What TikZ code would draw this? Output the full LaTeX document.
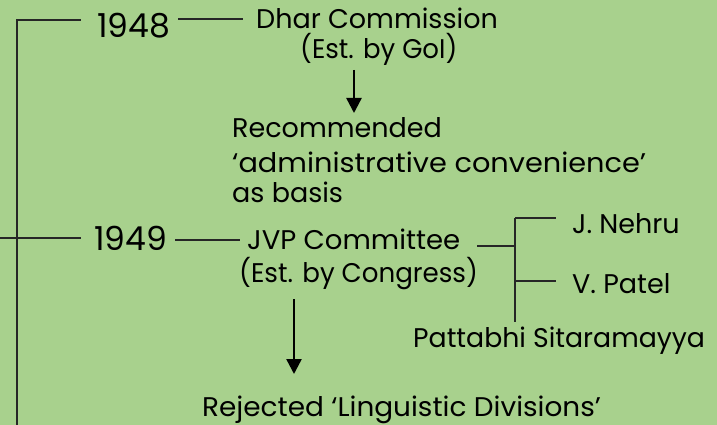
\documentclass[tikz,border=0pt]{standalone}
\usepackage{graphicx}
\usepackage{fontspec}
\setmainfont{Poppins}
\usetikzlibrary{arrows.meta}
\definecolor{bg}{HTML}{A8D18D}
\newcommand\hsq[2]{\scalebox{#1}[1]{#2}}
\tikzset{
  txt/.style={anchor=base west, inner sep=0pt, font=\fontsize{27}{32}\selectfont},
  yr/.style={anchor=base west, inner sep=0pt, font=\fontsize{33}{38}\selectfont},
  ln/.style={line width=1.3pt, black!85},
  arr/.style={line width=2.4pt, -{Triangle[length=15pt,width=15pt]}},
}
\begin{document}
\begin{tikzpicture}[x=1pt,y=-1pt]
\fill[bg] (0,0) rectangle (717,425);
\useasboundingbox (0,0) rectangle (717,425);
% texts
\node[yr] (y48) at (97,38) {1948};
\node[txt] (dhar) at (256,29) {Dhar Commission};
\node[txt] (gol) at (300,59) {\hsq{0.963}{(Est. by GoI)}};
\node[txt] (rec1) at (232,138) {Recommended};
\node[txt] (rec2) at (232,172) {\hsq{1.066}{‘administrative convenience’}};
\node[txt] (rec3) at (232,202) {as basis};
\node[yr] (y49) at (94,250) {1949};
\node[txt] (jvp) at (247,249) {\hsq{1.02}{JVP Committee}};
\node[txt] (cong) at (239,282) {\hsq{0.967}{(Est. by Congress)}};
\node[txt] (nehru) at (572,233) {J. Nehru};
\node[txt] (patel) at (572,293) {V. Patel};
\node[txt] (patt) at (413,347) {\hsq{0.99}{Pattabhi Sitaramayya}};
\node[txt] (rej) at (202,416) {\hsq{1.034}{Rejected ‘Linguistic Divisions’}};
% coordinates
\coordinate (tl) at (17,20);
\coordinate (bl) at (17,425);
\coordinate (l48) at (81,20);
\coordinate (l49a) at (0,238);
\coordinate (l49b) at (81,238);
\coordinate (d1) at (178,19);
\coordinate (d2) at (243,19);
\coordinate (j1) at (175,240);
\coordinate (j2) at (240,240);
\coordinate (c1) at (477,246);
\coordinate (c2) at (515,246);
\coordinate (vt) at (515,218);
\coordinate (vb) at (515,322);
\coordinate (n2) at (556,218);
\coordinate (p1) at (515,281);
\coordinate (p2) at (556,281);
\coordinate (a1s) at (354,70);
\coordinate (a1e) at (354,113);
\coordinate (a2s) at (294,299);
\coordinate (a2e) at (294,374);
% lines
\draw[ln] (bl) -- (tl) -- (l48);
\draw[ln] (l49a) -- (l49b);
\draw[ln] (d1) -- (d2);
\draw[ln] (j1) -- (j2);
\draw[ln] (c1) -- (c2);
\draw[ln] (vt) -- (vb);
\draw[ln] (vt) -- (n2);
\draw[ln] (p1) -- (p2);
\draw[arr] (a1s) -- (a1e);
\draw[arr] (a2s) -- (a2e);
\end{tikzpicture}
\end{document}
